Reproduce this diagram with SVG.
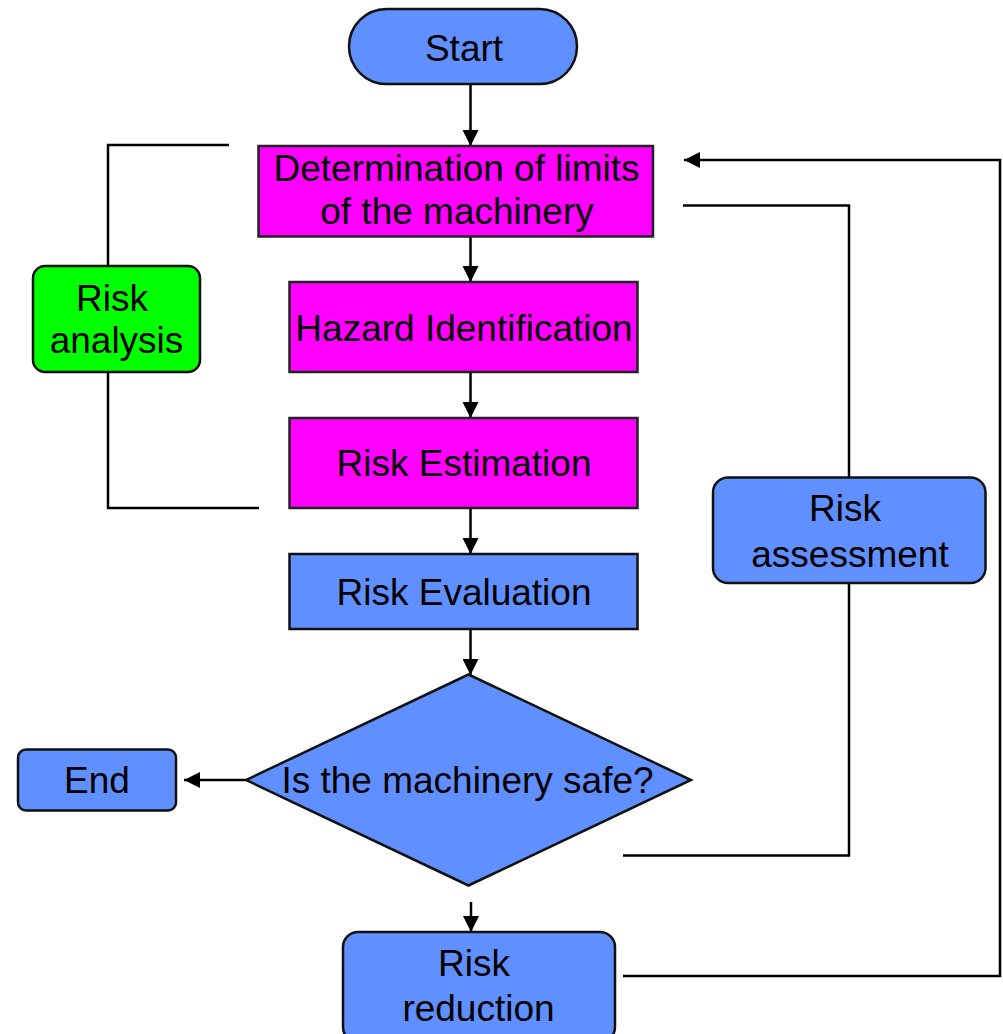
<svg xmlns="http://www.w3.org/2000/svg" width="1003" height="1034" viewBox="0 0 1003 1034">
<style>
text{font-family:"Liberation Sans",Arial,sans-serif;font-size:37px;fill:#000;text-anchor:middle}
.blue{fill:#608FFF;stroke:#111;stroke-width:2.5}
.mag{fill:#FF00FF;stroke:#222;stroke-width:2.5}
.green{fill:#00FF00;stroke:#111;stroke-width:2.5}
.ln{fill:none;stroke:#000;stroke-width:2.5}
</style>
<defs>
<marker id="ah" markerUnits="userSpaceOnUse" markerWidth="16" markerHeight="16" refX="16" refY="8" orient="auto">
<path d="M0,0 L16,8 L0,16 Z" fill="#000"/>
</marker>
</defs>
<rect width="1003" height="1034" fill="#fff"/>
<g id="connectors">
<path class="ln" d="M229,145 H108 V508 H259"/>
<path class="ln" d="M470.5,84 V146" marker-end="url(#ah)"/>
<path class="ln" d="M470.5,237 V282" marker-end="url(#ah)"/>
<path class="ln" d="M470.5,372 V418" marker-end="url(#ah)"/>
<path class="ln" d="M470.5,508 V554" marker-end="url(#ah)"/>
<path class="ln" d="M470.5,629 V675" marker-end="url(#ah)"/>
<path class="ln" d="M246,780 H184" marker-end="url(#ah)"/>
<path class="ln" d="M471,902 V932" marker-end="url(#ah)"/>
<path class="ln" d="M623,976 H1000 V160 H684" marker-end="url(#ah)"/>
<path class="ln" d="M683,205.5 H849 V477"/>
<path class="ln" d="M849,583 V855.5 H623"/>
</g>
<g id="start">
<rect class="blue" x="349" y="9" width="228" height="75" rx="37.5"/>
<text x="464" y="61">Start</text>
</g>
<g id="limits">
<rect class="mag" x="258.5" y="146" width="394.5" height="90.5"/>
<text x="456.5" y="181">Determination of limits</text>
<text x="457" y="224">of the machinery</text>
</g>
<g id="hazard">
<rect class="mag" x="289.5" y="282" width="348" height="90"/>
<text x="464" y="340.5">Hazard Identification</text>
</g>
<g id="estimation">
<rect class="mag" x="289.5" y="418" width="348" height="90"/>
<text x="464" y="476">Risk Estimation</text>
</g>
<g id="evaluation">
<rect class="blue" x="289.5" y="554" width="348" height="75"/>
<text x="464" y="604.5">Risk Evaluation</text>
</g>
<g id="decision">
<polygon class="blue" points="468.5,674.5 691,780 468.5,885.5 246,780"/>
<text x="467.5" y="793">Is the machinery safe?</text>
</g>
<g id="end">
<rect class="blue" x="18" y="749.5" width="158" height="61" rx="8"/>
<text x="97" y="793">End</text>
</g>
<g id="reduction">
<rect class="blue" x="343" y="932" width="272" height="110" rx="15"/>
<text x="474" y="976">Risk</text>
<text x="478.5" y="1021">reduction</text>
</g>
<g id="assessment">
<rect class="blue" x="713" y="477.5" width="272.5" height="105.5" rx="15"/>
<text x="845" y="521">Risk</text>
<text x="850" y="567">assessment</text>
</g>
<g id="analysis">
<rect class="green" x="33" y="266" width="167" height="106" rx="12"/>
<text x="112" y="311">Risk</text>
<text x="116.5" y="353">analysis</text>
</g>
</svg>
